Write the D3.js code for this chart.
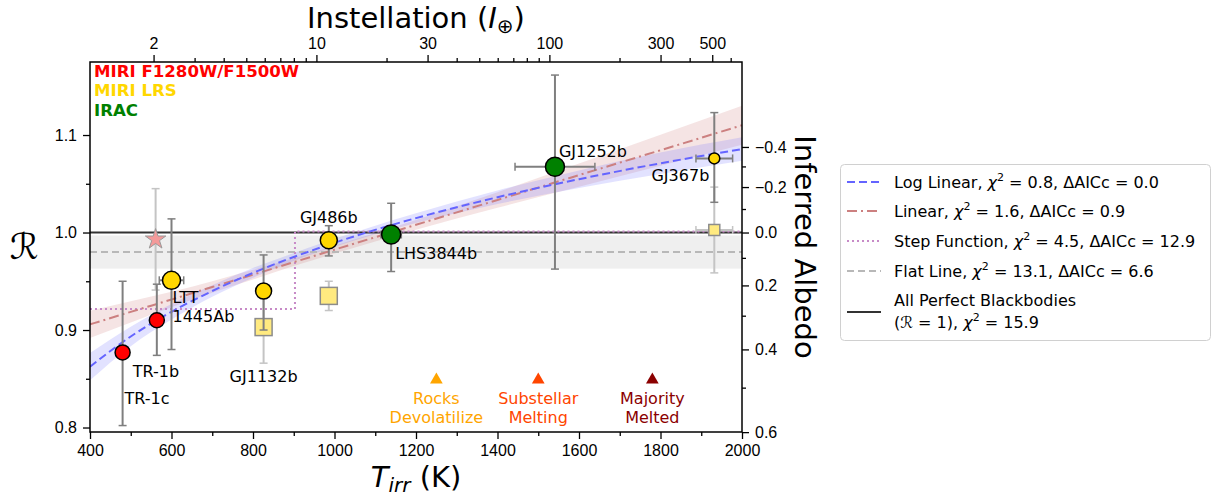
<!DOCTYPE html>
<html>
<head>
<meta charset="utf-8">
<script src="https://cdn.jsdelivr.net/npm/d3@7"></script>
<style>
  body { margin: 0; background: #fff; }
  svg { font-family: "DejaVu Sans", sans-serif; }
  .tick text { font-size: 16px; fill: #000; }
</style>
</head>
<body>
<svg width="1215" height="497"></svg>
<script>
// planets with dayside measurements
const planets = ['TR-1c', 'TR-1b', 'LTT 1445Ab', 'GJ1132b', 'GJ486b', 'LHS3844b', 'GJ1252b', 'GJ367b'];
const tirr = [480, 564, 600, 826, 986, 1139, 1541, 1932];
const rValues = [0.877, 0.910, 0.951, 0.940, 0.992, 0.998, 1.0675, 1.076];
const rErrHigh = [0.073, 0.037, 0.063, 0.037, 0.015, 0.032, 0.094, 0.047];
const rErrLow = [0.075, 0.036, 0.071, 0.040, 0.016, 0.038, 0.105, 0.045];
const tErr = [0, 0, 30, 0, 0, 25, 98, 45];
const instrument = ['MIRI F1280W/F1500W', 'MIRI F1280W/F1500W', 'MIRI LRS', 'MIRI LRS', 'MIRI LRS', 'IRAC', 'IRAC', 'MIRI LRS'];

// alternative reductions (faded markers)
const altTirr = [561, 826, 986, 1932];
const altR = [0.993, 0.903, 0.935, 1.0026];
const altErr = [0.052, 0.037, 0.015, 0.044];
const altTErr = [0, 0, 0, 45];
const altShape = ['star', 'square', 'square', 'square'];

const modelT = [400, 500, 600, 700, 800, 900, 1000, 1200, 1400, 1600, 1800, 2000];
const logLinear = [0.8624, 0.8934, 0.9187, 0.9400, 0.9586, 0.9749, 0.9895, 1.0148, 1.0362, 1.0547, 1.0710, 1.0856];
const logLinearErr = [0.014, 0.010, 0.008, 0.006, 0.005, 0.004, 0.004, 0.005, 0.007, 0.009, 0.011, 0.012];
const linear = [0.9058, 0.9186, 0.9313, 0.9441, 0.9568, 0.9696, 0.9824, 1.0079, 1.0334, 1.0589, 1.0844, 1.1100];
const linearErr = [0.014, 0.011, 0.008, 0.006, 0.005, 0.004, 0.004, 0.005, 0.008, 0.012, 0.016, 0.020];
const stepT = [400, 903, 903, 2000];
const stepR = [0.9215, 0.9215, 1.001, 1.001];
const flatR = 0.980;
const flatErr = 0.017;

const phaseT = [1250, 1500, 1780];
const phaseR = 0.849;
const phaseText = [['Rocks', 'Devolatilize'], ['Substellar', 'Melting'], ['Majority', 'Melted']];
const phaseColor = ['#ffa500', '#ff4500', '#8b0000'];

const xTicks = [400, 600, 800, 1000, 1200, 1400, 1600, 1800, 2000];
const xMinor = [500, 700, 900, 1100, 1300, 1500, 1700, 1900];
const yTicks = [0.8, 0.9, 1.0, 1.1];
const yMinor = [0.85, 0.95, 1.05];
const instTicks = [2, 10, 30, 100, 300, 500];
const instMinor = [3, 4, 5, 6, 7, 8, 9, 20, 40, 50, 60, 70, 80, 90, 200, 400, 600];
const albedoTicks = [-0.4, -0.2, 0.0, 0.2, 0.4, 0.6];
const albedoMinor = [-0.3, -0.1, 0.1, 0.3, 0.5];

const instColor = { 'MIRI F1280W/F1500W': '#ff0000', 'MIRI LRS': '#ffd700', 'IRAC': '#008000' };

const svg = d3.select('svg');
const mLeft = 90, mTop = 62, width = 652, height = 370;

const x = d3.scaleLinear().domain([400, 2000]).range([mLeft, mLeft + width]);
const y = d3.scaleLinear().domain([0.7954, 1.1749]).range([mTop + height, mTop]);
const xInst = d3.scaleLog().domain([1.067, 671]).range([mLeft, mLeft + width]);
const albedoToR = a => Math.pow(1 - a, 0.25);

svg.append('defs').append('clipPath').attr('id', 'plot')
  .append('rect').attr('x', mLeft).attr('y', mTop).attr('width', width).attr('height', height);

const plot = svg.append('g').attr('clip-path', 'url(#plot)');

// flat line band
plot.append('rect')
  .attr('x', x(400)).attr('width', x(2000) - x(400))
  .attr('y', y(flatR + flatErr)).attr('height', y(flatR - flatErr) - y(flatR + flatErr))
  .attr('fill', '#efefef');

const band = (vals, errs) => d3.area()
  .x((d, i) => x(modelT[i]))
  .y0((d, i) => y(vals[i] - errs[i]))
  .y1((d, i) => y(vals[i] + errs[i]))
  .curve(d3.curveMonotoneX)(modelT);
const line = vals => d3.line()
  .x((d, i) => x(modelT[i]))
  .y((d, i) => y(vals[i]))
  .curve(d3.curveMonotoneX)(modelT);

plot.append('path').attr('d', band(linear, linearErr)).attr('fill', 'rgba(205,120,120,0.2)');
plot.append('path').attr('d', band(logLinear, logLinearErr)).attr('fill', 'rgba(110,110,255,0.2)');

// R = 1 line
plot.append('line').attr('x1', x(400)).attr('x2', x(2000)).attr('y1', y(1)).attr('y2', y(1))
  .attr('stroke', '#333').attr('stroke-width', 2);
// flat line
plot.append('line').attr('x1', x(400)).attr('x2', x(2000)).attr('y1', y(flatR)).attr('y2', y(flatR))
  .attr('stroke', '#b8b8b8').attr('stroke-width', 2).attr('stroke-dasharray', '7,4');
// step function
plot.append('path')
  .attr('d', d3.line().x(d => x(d[0])).y(d => y(d[1]))(d3.zip(stepT, stepR)))
  .attr('fill', 'none').attr('stroke', '#c78ac7').attr('stroke-width', 2).attr('stroke-dasharray', '2,3');
plot.append('path').attr('d', line(linear)).attr('fill', 'none')
  .attr('stroke', '#cc8080').attr('stroke-width', 2).attr('stroke-dasharray', '10,4,2,4');
plot.append('path').attr('d', line(logLinear)).attr('fill', 'none')
  .attr('stroke', '#6464ff').attr('stroke-width', 2).attr('stroke-dasharray', '8,4');

// error bars
function errorBar(g, t, r, lo, hi, te, color) {
  const cap = 4;
  g.append('line').attr('x1', x(t)).attr('x2', x(t)).attr('y1', y(r - lo)).attr('y2', y(r + hi))
    .attr('stroke', color).attr('stroke-width', 2);
  [r - lo, r + hi].forEach(v => g.append('line')
    .attr('x1', x(t) - cap).attr('x2', x(t) + cap).attr('y1', y(v)).attr('y2', y(v))
    .attr('stroke', color).attr('stroke-width', 1.5));
  if (te > 0) {
    g.append('line').attr('x1', x(t - te)).attr('x2', x(t + te)).attr('y1', y(r)).attr('y2', y(r))
      .attr('stroke', color).attr('stroke-width', 2);
    [t - te, t + te].forEach(v => g.append('line')
      .attr('x1', x(v)).attr('x2', x(v)).attr('y1', y(r) - cap).attr('y2', y(r) + cap)
      .attr('stroke', color).attr('stroke-width', 1.5));
  }
}

const marks = svg.append('g');
altTirr.forEach((t, i) => errorBar(marks, t, altR[i], altErr[i], altErr[i], altTErr[i], '#c4c4c4'));
const altSize = [9, 17, 17, 11];
altTirr.forEach((t, i) => {
  if (altShape[i] === 'star') {
    marks.append('path')
      .attr('d', d3.symbol(d3.symbolStar, 130)())
      .attr('transform', `translate(${x(t)},${y(altR[i])})`)
      .attr('fill', '#f49a9a').attr('stroke', '#999').attr('stroke-width', 1);
  } else {
    const s = altSize[i];
    marks.append('rect')
      .attr('x', x(t) - s / 2).attr('y', y(altR[i]) - s / 2).attr('width', s).attr('height', s)
      .attr('fill', '#ffea80').attr('stroke', '#8c8c8c').attr('stroke-width', 1.5);
  }
});

tirr.forEach((t, i) => errorBar(marks, t, rValues[i], rErrLow[i], rErrHigh[i], tErr[i], '#7f7f7f'));
const radius = [7.5, 7.5, 9, 8, 8.5, 9.5, 9.5, 5.5];
marks.selectAll('circle.planet')
  .data(planets)
  .enter().append('circle')
  .attr('class', 'planet')
  .attr('cx', (d, i) => x(tirr[i]))
  .attr('cy', (d, i) => y(rValues[i]))
  .attr('r', (d, i) => radius[i])
  .attr('fill', (d, i) => instColor[instrument[i]])
  .attr('stroke', '#000').attr('stroke-width', 1.5);

// planet labels: [dx, dy, anchor, lines]
const labelPos = [
  [2, 46, 'start', ['TR-1c']],
  [-24, 51, 'start', ['TR-1b']],
  [1, 17, 'start', ['LTT', '1445Ab']],
  [0, 85, 'middle', ['GJ1132b']],
  [0, -23, 'middle', ['GJ486b']],
  [4, 19, 'start', ['LHS3844b']],
  [4, -15, 'start', ['GJ1252b']],
  [-5, 17, 'end', ['GJ367b']]
];
planets.forEach((p, i) => {
  const [dx, dy, anchor, lines] = labelPos[i];
  lines.forEach((l, j) => svg.append('text')
    .attr('x', x(tirr[i]) + dx).attr('y', y(rValues[i]) + dy + j * 19)
    .attr('dy', '0.36em').attr('text-anchor', anchor)
    .attr('font-size', 16).text(l));
});

// phase markers
phaseT.forEach((t, i) => {
  svg.append('path').attr('d', d3.symbol(d3.symbolTriangle, 70)())
    .attr('transform', `translate(${x(t)},${y(phaseR)})`).attr('fill', phaseColor[i]);
  phaseText[i].forEach((l, j) => svg.append('text')
    .attr('x', x(t)).attr('y', y(phaseR) + 18 + j * 19).attr('dy', '0.36em')
    .attr('text-anchor', 'middle').attr('font-size', 16).attr('fill', phaseColor[i]).text(l));
});

// instrument key
Object.keys(instColor).forEach((k, i) => svg.append('text')
  .attr('x', 94).attr('y', 71 + i * 19.5).attr('dy', '0.36em')
  .attr('font-size', 16.6).attr('font-weight', 'bold').attr('fill', instColor[k]).text(k));

// axes
const fmt1 = d3.format('.1f');
svg.append('g').attr('transform', `translate(0,${mTop + height})`)
  .call(d3.axisBottom(x).tickValues(xTicks).tickSize(7).tickPadding(6).tickFormat(d3.format('d')));
svg.append('g').attr('transform', `translate(0,${mTop + height})`)
  .call(d3.axisBottom(x).tickValues(xMinor).tickSize(4).tickFormat(''));
svg.append('g').attr('transform', `translate(${mLeft},0)`)
  .call(d3.axisLeft(y).tickValues(yTicks).tickSize(7).tickPadding(6).tickFormat(fmt1));
svg.append('g').attr('transform', `translate(${mLeft},0)`)
  .call(d3.axisLeft(y).tickValues(yMinor).tickSize(4).tickFormat(''));
svg.append('g').attr('transform', `translate(0,${mTop})`)
  .call(d3.axisTop(xInst).tickValues(instTicks).tickSize(7).tickPadding(6).tickFormat(d3.format('d')));
svg.append('g').attr('transform', `translate(0,${mTop})`)
  .call(d3.axisTop(xInst).tickValues(instMinor).tickSize(4).tickFormat(''));
svg.append('g').attr('transform', `translate(${mLeft + width},0)`)
  .call(d3.axisRight(y).tickValues(albedoTicks.map(albedoToR)).tickSize(7).tickPadding(6)
    .tickFormat((d, i) => fmt1(albedoTicks[i])));
svg.append('g').attr('transform', `translate(${mLeft + width},0)`)
  .call(d3.axisRight(y).tickValues(albedoMinor.map(albedoToR)).tickSize(4).tickFormat(''));
svg.selectAll('.domain').remove();
svg.selectAll('.tick line').attr('stroke', '#000').attr('stroke-width', 1.3);

svg.append('rect').attr('x', mLeft).attr('y', mTop).attr('width', width).attr('height', height)
  .attr('fill', 'none').attr('stroke', '#000').attr('stroke-width', 1.5);

// axis titles
const xl = svg.append('text').attr('x', mLeft + width / 2).attr('y', 487)
  .attr('text-anchor', 'middle').attr('font-size', 29);
xl.append('tspan').attr('font-style', 'italic').text('T');
xl.append('tspan').attr('font-style', 'italic').attr('font-size', 20).attr('dy', 5).text('irr');
xl.append('tspan').attr('dy', -5).text(' (K)');

const tl = svg.append('text').attr('x', mLeft + width / 2).attr('y', 28)
  .attr('text-anchor', 'middle').attr('font-size', 29);
tl.append('tspan').text('Instellation (');
tl.append('tspan').attr('font-style', 'italic').text('I');
tl.append('tspan').attr('font-size', 20).attr('dy', 5).text('⊕');
tl.append('tspan').attr('dy', -5).text(')');

svg.append('text').attr('x', 24).attr('y', mTop + height / 2 + 12)
  .attr('text-anchor', 'middle').attr('font-size', 36).attr('font-style', 'italic').text('ℛ');
svg.append('text').attr('transform', `translate(795,${mTop + height / 2}) rotate(90)`)
  .attr('text-anchor', 'middle').attr('font-size', 29).text('Inferred Albedo');

// legend
const legend = svg.append('g');
legend.append('rect').attr('x', 840.5).attr('y', 164.5).attr('width', 370).attr('height', 176)
  .attr('rx', 4).attr('fill', '#fff').attr('stroke', '#d0d0d0');
const legendRows = [
  { y: 182, color: '#6464ff', dash: '8,4', name: 'Log Linear', chi: '0.8', aic: '0.0' },
  { y: 211, color: '#cc8080', dash: '10,4,2,4', name: 'Linear', chi: '1.6', aic: '0.9' },
  { y: 241, color: '#c78ac7', dash: '2,3', name: 'Step Function', chi: '4.5', aic: '12.9' },
  { y: 271, color: '#b8b8b8', dash: '7,4', name: 'Flat Line', chi: '13.1', aic: '6.6' }
];
function chiText(t, chi) {
  t.append('tspan').attr('font-style', 'italic').text('χ');
  t.append('tspan').attr('font-size', 11).attr('dy', -7).text('2');
  t.append('tspan').attr('dy', 7).text(' = ' + chi);
}
legendRows.forEach(r => {
  legend.append('line').attr('x1', 847).attr('x2', 881).attr('y1', r.y).attr('y2', r.y)
    .attr('stroke', r.color).attr('stroke-width', 2).attr('stroke-dasharray', r.dash);
  const t = legend.append('text').attr('x', 894).attr('y', r.y).attr('dy', '0.36em').attr('font-size', 16);
  t.append('tspan').text(r.name + ', ');
  chiText(t, r.chi);
  t.append('tspan').text(', ΔAICc = ' + r.aic);
});
legend.append('line').attr('x1', 847).attr('x2', 881).attr('y1', 312).attr('y2', 312)
  .attr('stroke', '#333').attr('stroke-width', 2);
legend.append('text').attr('x', 894).attr('y', 300).attr('dy', '0.36em').attr('font-size', 16)
  .text('All Perfect Blackbodies');
const lt = legend.append('text').attr('x', 894).attr('y', 322).attr('dy', '0.36em').attr('font-size', 16);
lt.append('tspan').text('(');
lt.append('tspan').attr('font-style', 'italic').text('ℛ');
lt.append('tspan').text(' = 1), ');
chiText(lt, '15.9');
</script>
</body>
</html>
